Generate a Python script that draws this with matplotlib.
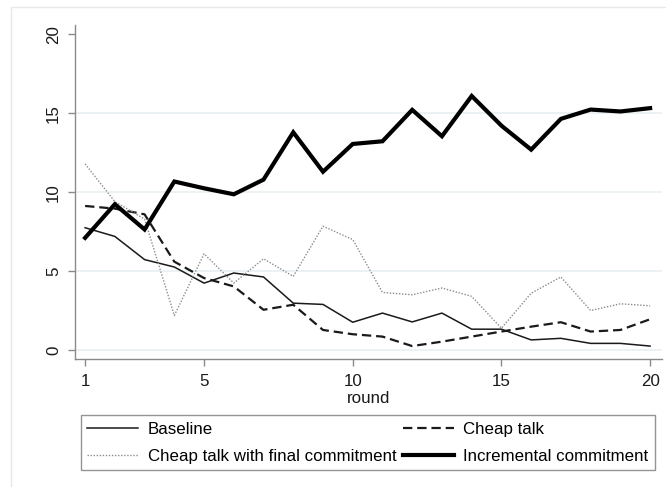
import matplotlib
matplotlib.use("Agg")
import matplotlib.pyplot as plt
from matplotlib.patches import Rectangle

# mean values per round
rounds = list(range(1, 21))
baseline = [7.75, 7.2, 5.73, 5.26, 4.24, 4.88, 4.63, 2.97, 2.89, 1.76,
            2.34, 1.78, 2.34, 1.32, 1.32, 0.64, 0.74, 0.42, 0.42, 0.25]
cheap_talk = [9.13, 8.96, 8.6, 5.6, 4.56, 4.03, 2.55, 2.87, 1.27, 1.0,
              0.85, 0.25, 0.53, 0.85, 1.17, 1.48, 1.76, 1.17, 1.27, 1.95]
cheap_final = [11.8, 9.4, 8.3, 2.19, 6.1, 4.24, 5.78, 4.67, 7.85, 7.0,
               3.65, 3.5, 3.93, 3.4, 1.38, 3.6, 4.63, 2.5, 2.93, 2.8]
incremental = [7.11, 9.24, 7.64, 10.68, 10.25, 9.87, 10.8, 13.8, 11.3, 13.06,
               13.23, 15.22, 13.55, 16.1, 14.22, 12.7, 14.65, 15.24, 15.12, 15.33]

x_ticks = [1, 5, 10, 15, 20]
y_ticks = [0, 5, 10, 15, 20]

plt.rcParams['font.family'] = ['Liberation Sans', 'DejaVu Sans']
fs = 12.2

fig = plt.figure(figsize=(6.66, 4.87), dpi=100)
ax = fig.add_axes([75 / 666, 1 - 359 / 487, (662 - 75) / 666, (359 - 25) / 487])

# light outer frame like the Stata graph region
fig.patches.append(Rectangle((11 / 666, -0.05), 1.1, 1 - 6.5 / 487 + 0.05,
                             transform=fig.transFigure, fill=False,
                             edgecolor='#e6e9ea', linewidth=1.0))

# horizontal grid lines (not at the top tick)
for yv in y_ticks[:-1]:
    ax.axhline(yv, color='#eaf1f2', linewidth=1.3, zorder=0)

l_base, = ax.plot(rounds, baseline, color='#1a1a1a', linewidth=1.1, label='Baseline')
l_cheap, = ax.plot(rounds, cheap_talk, color='#1a1a1a', linewidth=1.6,
                   linestyle=(0, (4.2, 2.2)), label='Cheap talk')
l_final, = ax.plot(rounds, cheap_final, color='#8c8c8c', linewidth=1.0,
                   linestyle=(0, (1, 1.2)), label='Cheap talk with final commitment')
l_incr, = ax.plot(rounds, incremental, color='black', linewidth=3.0,
                  solid_joinstyle='miter', label='Incremental commitment')

ax.set_xlim(0.66, 20.4)
ax.set_ylim(-0.57, 20.6)
ax.set_xticks(x_ticks)
ax.set_yticks(y_ticks)

for side in ['top', 'right']:
    ax.spines[side].set_visible(False)
for side in ['left', 'bottom']:
    ax.spines[side].set_color('#8a8a8a')
    ax.spines[side].set_linewidth(1.0)

ax.tick_params(axis='both', colors='#8a8a8a', labelcolor='#1a1a1a',
               length=5, width=1.0, labelsize=fs)
ax.tick_params(axis='x', pad=6)
ax.tick_params(axis='y', pad=5)
for lbl in ax.get_yticklabels():
    lbl.set_rotation(90)
    lbl.set_va('center')

ax.set_xlabel('round', fontsize=fs, color='#1a1a1a', labelpad=1)

# column-wise fill so rows read: Baseline | Cheap talk, final | incremental
handles = [l_base, l_final, l_cheap, l_incr]
leg = fig.legend(handles=handles, labels=[h.get_label() for h in handles],
                 loc='upper left', bbox_to_anchor=(80.7 / 666, 1 - 415 / 487),
                 ncol=2, fontsize=fs, frameon=True, fancybox=False,
                 edgecolor='#7a7a7a', handlelength=3.0, handletextpad=0.55,
                 columnspacing=0.4, borderpad=0.4, labelspacing=0.7,
                 borderaxespad=0)
leg.get_frame().set_linewidth(1.0)

fig.savefig('out.png', dpi=100)
